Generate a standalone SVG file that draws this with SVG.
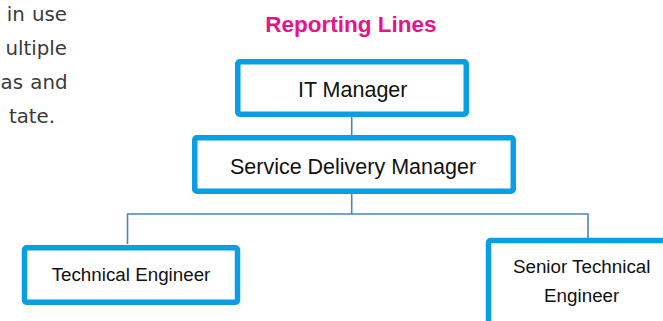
<svg xmlns="http://www.w3.org/2000/svg" width="663" height="321" viewBox="0 0 663 321">
  <style>
    .box { fill: #ffffff; stroke: #0a9ee2; stroke-width: 5.5; }
    .lbl { font-family: "Liberation Sans", Arial, sans-serif; fill: #111111; text-anchor: middle; }
    .big { font-size: 21.5px; }
    .small { font-size: 18.8px; }
    .conn { fill: none; stroke: #4f81bd; stroke-width: 1.6; }
    .body { font-family: "DejaVu Sans", sans-serif; font-size: 19.8px; fill: #3a3a3a; text-anchor: end; word-spacing: 1px; }
    .title { font-family: "Liberation Sans", Arial, sans-serif; font-weight: bold; font-size: 22.5px; fill: #e4148b; text-anchor: middle; }
  </style>
  <rect width="663" height="321" fill="#ffffff"/>

  <g id="body-text">
    <text class="body" x="67" y="21">in use</text>
    <text class="body" x="67" y="55">ultiple</text>
    <text class="body" x="67.5" y="89">as and</text>
    <text class="body" x="55" y="123">tate.</text>
  </g>

  <text id="title" class="title" x="351" y="32">Reporting Lines</text>

  <g id="connectors">
    <line class="conn" x1="351.7" y1="117" x2="351.7" y2="135"/>
    <line class="conn" x1="351.7" y1="194" x2="351.7" y2="214"/>
    <polyline class="conn" points="127.5,244 127.5,214 588,214 588,240"/>
  </g>

  <g id="it-manager">
    <rect class="box" x="237.75" y="61.75" width="228.5" height="52.5" rx="2"/>
    <text class="lbl big" x="352.7" y="97">IT Manager</text>
  </g>

  <g id="service-delivery-manager">
    <rect class="box" x="194.75" y="137.75" width="318.5" height="53.5" rx="2"/>
    <text class="lbl big" x="353" y="174.3">Service Delivery Manager</text>
  </g>

  <g id="technical-engineer">
    <rect class="box" x="24.5" y="247.75" width="213" height="54.5" rx="2"/>
    <text class="lbl small" x="131" y="280.7">Technical Engineer</text>
  </g>

  <g id="senior-technical-engineer">
    <rect class="box" x="488.5" y="240.5" width="200" height="120" rx="2"/>
    <text class="lbl small" x="581.7" y="272.7">Senior Technical</text>
    <text class="lbl small" x="581.7" y="301.7">Engineer</text>
  </g>
</svg>
